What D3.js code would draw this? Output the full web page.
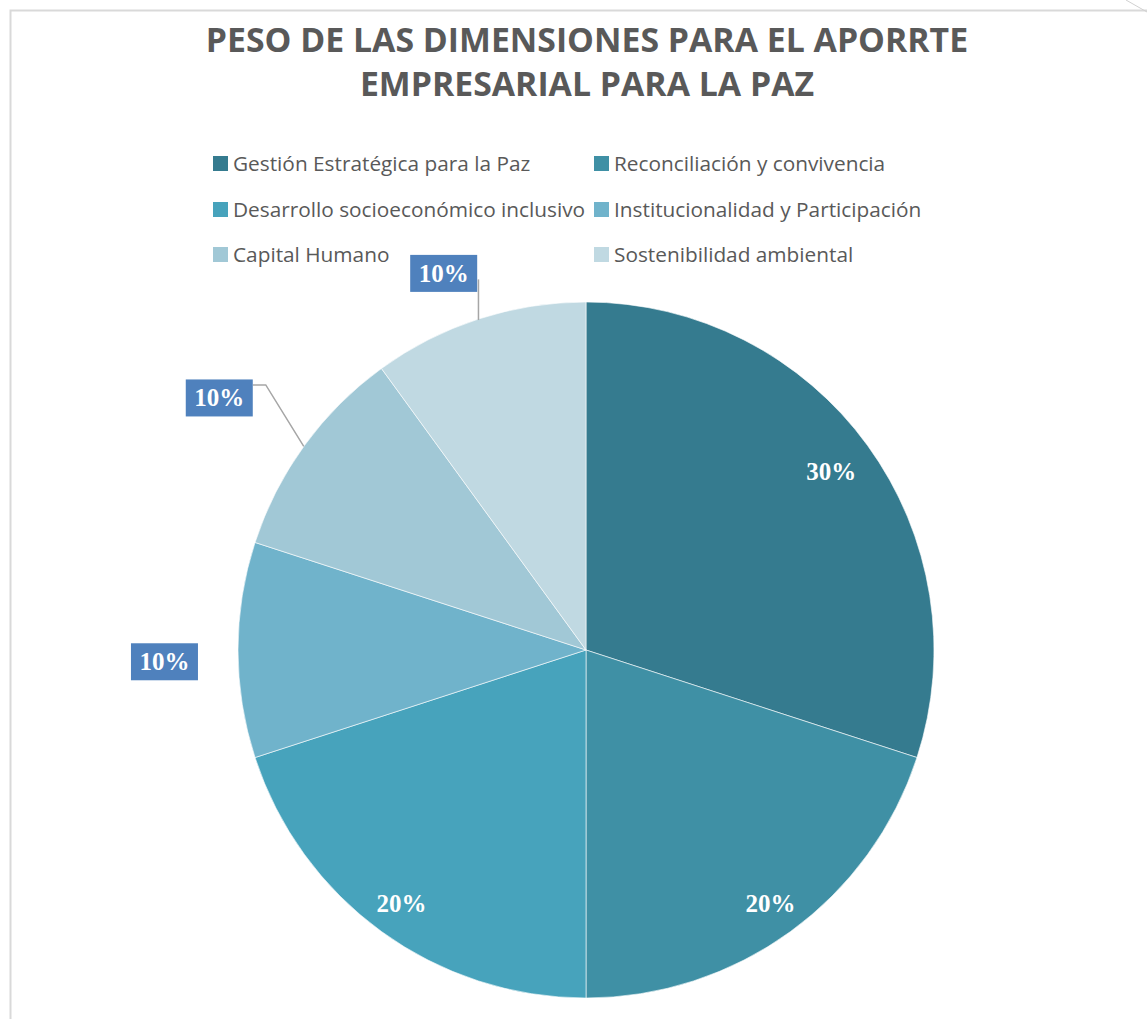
<!DOCTYPE html>
<html><head><meta charset="utf-8">
<script src="https://cdn.jsdelivr.net/npm/d3@7/dist/d3.min.js"></script>
<style>body{margin:0;background:#fff;}svg{display:block;}</style>
</head><body><svg id="c" width="1147" height="1019"></svg>
<script>
const categories = ["Gestión Estratégica para la Paz","Reconciliación y convivencia","Desarrollo socioeconómico inclusivo","Institucionalidad y Participación","Capital Humano","Sostenibilidad ambiental"];
const values = [30,20,20,10,10,10];
const colors = ["#357b8f","#3f90a5","#47a3bc","#70b3cb","#a1c8d6","#c0d9e2"];
const titleLines = ["PESO DE LAS DIMENSIONES PARA EL APORRTE","EMPRESARIAL PARA LA PAZ"];

const svg = d3.select("#c");
// frame
svg.append("path").attr("d","M10.5,1019 L10.5,10.5 L1147,10.5").attr("fill","none").attr("stroke","#d9d9d9").attr("stroke-width",2);
svg.append("path").attr("d","M1126,0 L1147,12").attr("fill","none").attr("stroke","#d0d0d0").attr("stroke-width",1);

svg.selectAll("text.title").data(titleLines).enter().append("text")
  .attr("x",587).attr("y",(d,i)=>52+i*44).attr("text-anchor","middle")
  .attr("font-family","Open Sans").attr("font-weight","bold").attr("font-size",33.8)
  .attr("fill","#595959").text(d=>d);

// legend
const legX = [213,594], legY=[163,209,254];
const leg = svg.selectAll("g.leg").data(categories).enter().append("g")
  .attr("transform",(d,i)=>`translate(${legX[i%2]},${legY[Math.floor(i/2)]})`);
leg.append("rect").attr("x",0).attr("y",-7).attr("width",15).attr("height",15).attr("fill",(d,i)=>colors[i]);
leg.append("text").attr("x",20).attr("y",7.5).attr("font-family","Open Sans").attr("font-size",20.8)
  .attr("fill","#595959").text(d=>d);

const cx=586, cy=650, R=348;
const pie = d3.pie().sort(null).value(d=>d)(values);
const arc = d3.arc().innerRadius(0).outerRadius(R);
const g = svg.append("g").attr("transform",`translate(${cx},${cy})`);
g.selectAll("path").data(pie).enter().append("path").attr("d",arc)
  .attr("fill",(d,i)=>colors[i]).attr("stroke","#fff").attr("stroke-width",0.6);

const fmt = d3.format(".0%");
const total = d3.sum(values);
const labelFont = "Liberation Serif", labelSize = 25;
// inside labels
const inR = [303,314,314];
g.selectAll("text.in").data(pie.slice(0,3)).enter().append("text")
  .attr("transform",(d,i)=>`translate(${d3.arc().innerRadius(inR[i]).outerRadius(inR[i]).centroid(d)})`)
  .attr("text-anchor","middle").attr("dy","0.33em")
  .attr("font-family",labelFont).attr("font-weight","bold").attr("font-size",labelSize)
  .attr("fill","#fff").text(d=>fmt(d.value/total));

// outside labels layout (radius, angle deg) for box centers
const outLayout = [{r:421.7,a:268.4,leader:0},{r:445,a:304.5,leader:1},{r:402.6,a:339.3,leader:2}];
const bw=67,bh=37;
pie.slice(3).forEach((d,k)=>{
  const L=outLayout[k];
  const a=L.a*Math.PI/180;
  const bx=L.r*Math.sin(a), by=-L.r*Math.cos(a);
  const mid=(d.startAngle+d.endAngle)/2;
  if(L.leader===1){
    const ea=305.8*Math.PI/180;
    const ex=R*Math.sin(ea), ey=-R*Math.cos(ea);
    g.append("path").attr("d",`M${bx+bw/2},${by-13} L${bx+bw/2+13},${by-13} L${ex},${ey}`)
      .attr("fill","none").attr("stroke","#a6a6a6").attr("stroke-width",1.5);
  } else if(L.leader===2){
    const ex=R*Math.sin(mid), ey=-R*Math.cos(mid);
    g.append("path").attr("d",`M${ex},${by+6} L${ex},${ey+1}`)
      .attr("fill","none").attr("stroke","#a6a6a6").attr("stroke-width",1.5);
  }
  g.append("rect").attr("x",bx-bw/2).attr("y",by-bh/2).attr("width",bw).attr("height",bh).attr("fill","#4f81bd");
  g.append("text").attr("x",bx).attr("y",by).attr("dy","0.33em").attr("text-anchor","middle")
    .attr("font-family",labelFont).attr("font-weight","bold").attr("font-size",labelSize)
    .attr("fill","#fff").text(fmt(d.value/total));
});
</script></body></html>
